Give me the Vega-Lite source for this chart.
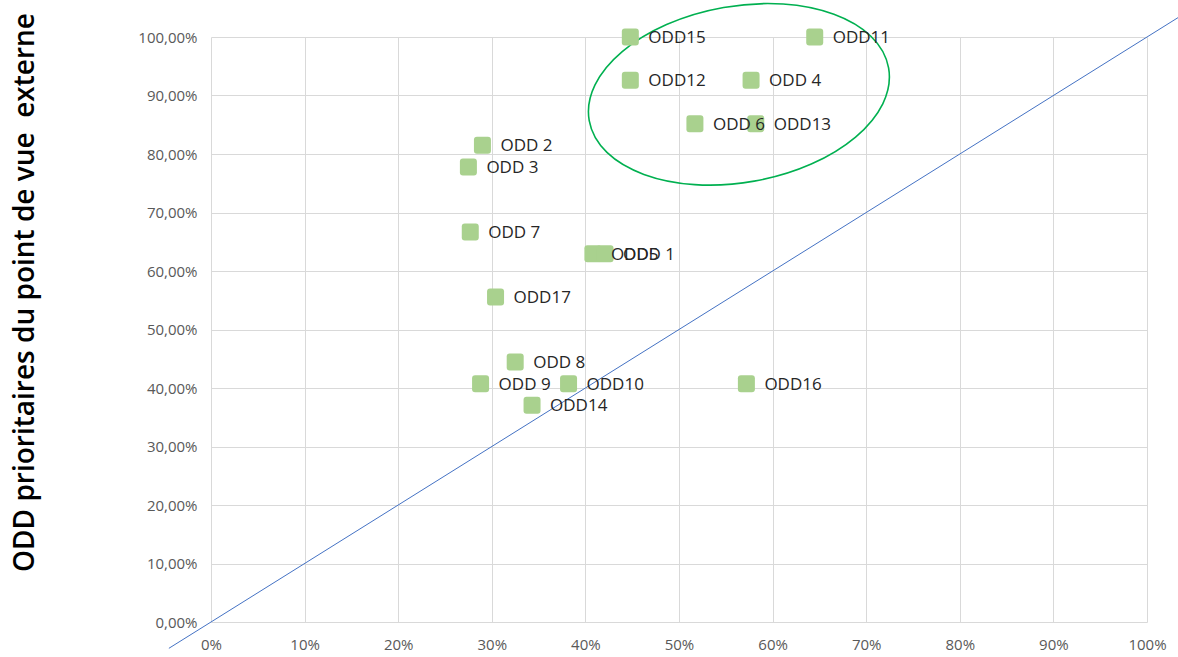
{
  "$schema": "https://vega.github.io/schema/vega-lite/v6.json",
  "autosize": "none",
  "width": 936,
  "height": 585,
  "padding": {"left": 211, "top": 37, "right": 31, "bottom": 35},
  "background": "white",
  "config": {
    "view": {"stroke": null},
    "axis": {
      "gridColor": "#d9d9d9",
      "gridWidth": 1,
      "domain": false,
      "ticks": false,
      "labelColor": "#595959",
      "labelFont": "Open Sans",
      "labelFontSize": 15
    }
  },
  "datasets": {
    "points": [
      {"x": 0.448, "y": 1.0, "label": "ODD15"},
      {"x": 0.645, "y": 1.0, "label": "ODD11"},
      {"x": 0.448, "y": 0.9259, "label": "ODD12"},
      {"x": 0.577, "y": 0.9259, "label": "ODD 4"},
      {"x": 0.517, "y": 0.8519, "label": "ODD 6"},
      {"x": 0.582, "y": 0.8519, "label": "ODD13"},
      {"x": 0.290, "y": 0.8148, "label": "ODD 2"},
      {"x": 0.275, "y": 0.7778, "label": "ODD 3"},
      {"x": 0.277, "y": 0.6667, "label": "ODD 7"},
      {"x": 0.408, "y": 0.6296, "label": "ODD5"},
      {"x": 0.421, "y": 0.6296, "label": "ODD 1"},
      {"x": 0.304, "y": 0.5556, "label": "ODD17"},
      {"x": 0.325, "y": 0.4444, "label": "ODD 8"},
      {"x": 0.288, "y": 0.4074, "label": "ODD 9"},
      {"x": 0.382, "y": 0.4074, "label": "ODD10"},
      {"x": 0.343, "y": 0.3704, "label": "ODD14"},
      {"x": 0.572, "y": 0.4074, "label": "ODD16"}
    ],
    "diag": [
      {"x": -0.045, "y": -0.045},
      {"x": 1.035, "y": 1.035}
    ],
    "ellipse": [
      {"x": 0.564, "y": 0.902}
    ]
  },
  "layer": [
    {
      "data": {"name": "diag"},
      "mark": {"type": "line", "color": "#4472c4", "strokeWidth": 1},
      "encoding": {
        "x": {
          "field": "x", "type": "quantitative",
          "scale": {"domain": [0, 1], "nice": false, "zero": false},
          "axis": {
            "values": [0, 0.1, 0.2, 0.3, 0.4, 0.5, 0.6, 0.7, 0.8, 0.9, 1],
            "format": ".0%",
            "title": null,
            "labelFlush": false,
            "labelPadding": 15
          }
        },
        "y": {
          "field": "y", "type": "quantitative",
          "scale": {"domain": [0, 1], "nice": false, "zero": false},
          "axis": {
            "values": [0, 0.1, 0.2, 0.3, 0.4, 0.5, 0.6, 0.7, 0.8, 0.9, 1],
            "labelExpr": "replace(format(datum.value, '.2%'), '.', ',')",
            "labelPadding": 14,
            "labelFlush": false,
            "title": "ODD prioritaires du point de vue \u00a0externe",
            "titleFont": "Open Sans",
            "titleFontSize": 28,
            "titleFontWeight": 600,
            "titleColor": "#000000",
            "titleX": -186,
            "titleY": 255,
            "titleAngle": -90,
            "titleAlign": "center",
            "titleBaseline": "middle"
          }
        }
      }
    },
    {
      "data": {"name": "ellipse"},
      "mark": {
        "type": "point",
        "shape": "M-1,0 A1,0.58 0 1,1 1,0 A1,0.58 0 1,1 -1,0 Z",
        "filled": false,
        "stroke": "#00b050",
        "strokeWidth": 1.6,
        "opacity": 1,
        "size": 92416,
        "angle": -10
      },
      "encoding": {
        "x": {"field": "x", "type": "quantitative"},
        "y": {"field": "y", "type": "quantitative"}
      }
    },
    {
      "data": {"name": "points"},
      "mark": {
        "type": "point",
        "shape": "M-0.65,-1 L0.65,-1 Q1,-1 1,-0.65 L1,0.65 Q1,1 0.65,1 L-0.65,1 Q-1,1 -1,0.65 L-1,-0.65 Q-1,-1 -0.65,-1 Z",
        "filled": true,
        "color": "#a9d18e",
        "opacity": 1,
        "size": 289
      },
      "encoding": {
        "x": {"field": "x", "type": "quantitative"},
        "y": {"field": "y", "type": "quantitative"}
      }
    },
    {
      "data": {"name": "points"},
      "mark": {
        "type": "text",
        "align": "left",
        "baseline": "middle",
        "dx": 18,
        "dy": 1,
        "font": "Open Sans",
        "fontSize": 17,
        "color": "#262626"
      },
      "encoding": {
        "x": {"field": "x", "type": "quantitative"},
        "y": {"field": "y", "type": "quantitative"},
        "text": {"field": "label"}
      }
    }
  ]
}
